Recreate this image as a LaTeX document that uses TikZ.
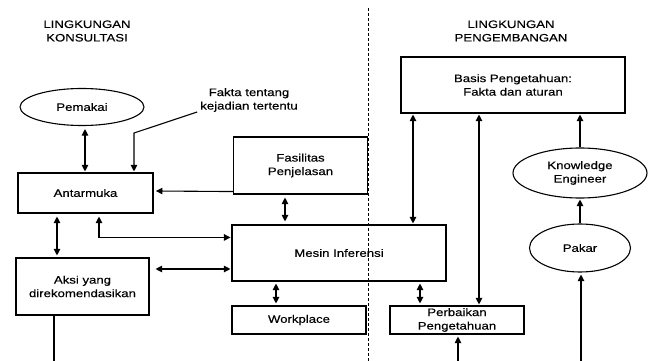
\documentclass[tikz,border=0pt]{standalone}
\usepackage{fontspec}
\setmainfont{Liberation Sans}[FakeStretch=1.22, FakeBold=0.35]
\usetikzlibrary{shapes.geometric,arrows.meta,calc}

\begin{document}
\begin{tikzpicture}[x=1pt,y=-1pt,
  every node/.style={font=\fontsize{10.8}{13.5}\selectfont, align=center, inner sep=0pt},
  box/.style={draw, rectangle, line width=1.1pt},
  oval/.style={draw, ellipse, line width=1.1pt},
  conn/.style={line width=1.1pt, >={Triangle[length=6.5pt,width=6.5pt]}},
  divider/.style={line width=0.8pt, dash pattern=on 3pt off 2pt}
]
\useasboundingbox (0,0) rectangle (656,361);

% section headings
\node (hkons) at (87,31) {LINGKUNGAN\\KONSULTASI};
\node (hpeng) at (511,31) {LINGKUNGAN\\PENGEMBANGAN};

% boundary between the two environments
\coordinate (divtop) at (368,8);
\coordinate (divbot) at (368,361);
\draw[divider] (divtop) -- (divbot);

% consultation side
\node[oval, minimum width=124pt, minimum height=37pt] (pemakai) at (82,107) {Pemakai};
\node (fakta) at (249,100) {Fakta tentang\\kejadian tertentu};
\node[box, minimum width=135pt, minimum height=40pt] (antarmuka) at (85.5,193) {Antarmuka};
\node[box, minimum width=133pt, minimum height=57pt] (aksi) at (82.5,286.5) {Aksi yang\\direkomendasikan};
\node[box, minimum width=134pt, minimum height=57pt] (fasilitas) at (300.5,165.5) {Fasilitas\\Penjelasan};
\node[box, minimum width=214pt, minimum height=56pt] (mesin) at (339,253) {Mesin Inferensi};
\node[box, minimum width=134pt, minimum height=28pt] (workplace) at (299,320) {Workplace};

% development side
\node[box, minimum width=224pt, minimum height=56pt] (basis) at (513,85) {Basis Pengetahuan:\\Fakta dan aturan};
\node[box, minimum width=134pt, minimum height=28pt] (perbaikan) at (457,320) {Perbaikan\\Pengetahuan};
\node[oval, minimum width=134pt, minimum height=50pt] (ke) at (580,173) {Knowledge\\Engineer};
\node[oval, minimum width=101pt, minimum height=48pt] (pakar) at (580,248) {Pakar};

% free ends and bends
\coordinate (fk) at (134,133);
\coordinate (aksiout) at (54,361);
\coordinate (perbin) at (458,361);
\coordinate (pakarin) at (581,361);

\begin{scope}[conn]
  \draw[<->] ($(pemakai.south)+(3,3)$) -- ($(antarmuka.north)+(-0.5,-1)$);
  \draw[->] ($(fakta.south west)+(-3,0)$) -- (fk) -- ($(fk |- antarmuka.north)+(0,-1)$);
  \draw[->] ($(fasilitas.south west)+(0,-3)$) -- ($(fasilitas.south west |- antarmuka.east)+(-77,-2)$);
  \draw[<->] ($(fasilitas.south)+(-15.5,3)$) -- ($(fasilitas.south |- mesin.north)+(-15.5,-3)$);
  \draw[<->] ($(antarmuka.south)+(13.5,3)$) |- ($(mesin.north west)+(-1,13)$);
  \draw[<->] ($(antarmuka.south)+(-28.5,3)$) -- ($(antarmuka.south |- aksi.north)+(-28.5,-2)$);
  \draw[<->] ($(aksi.east)+(6,-17.5)$) -- ($(mesin.west |- aksi.east)+(-1,-17.5)$);
  \draw ($(aksi.south)+(-28.5,0)$) -- (aksiout);
  \draw[<->] ($(mesin.south)+(-63,2)$) -- ($(mesin.south |- workplace.north)+(-63,-2)$);
  \draw[<->] ($(basis.south)+(-100,1)$) -- ($(basis.south |- mesin.north)+(-100,-1)$);
  \draw[<->] ($(basis.south)+(-34,1)$) -- ($(basis.south |- perbaikan.north)+(-34,-1)$);
  \draw[<->] ($(mesin.south)+(81,2)$) -- ($(mesin.south |- perbaikan.north)+(81,-2)$);
  \draw[->] (perbin) -- ($(perbaikan.south)+(1,2)$);
  \draw[->] (ke.north) -- ($(ke.north |- basis.south)+(0,1)$);
  \draw[->] (pakar.north) -- ($(ke.south)+(0,1)$);
  \draw[->] (pakarin) -- ($(pakar.south)+(1,2)$);
\end{scope}
\end{tikzpicture}
\end{document}
